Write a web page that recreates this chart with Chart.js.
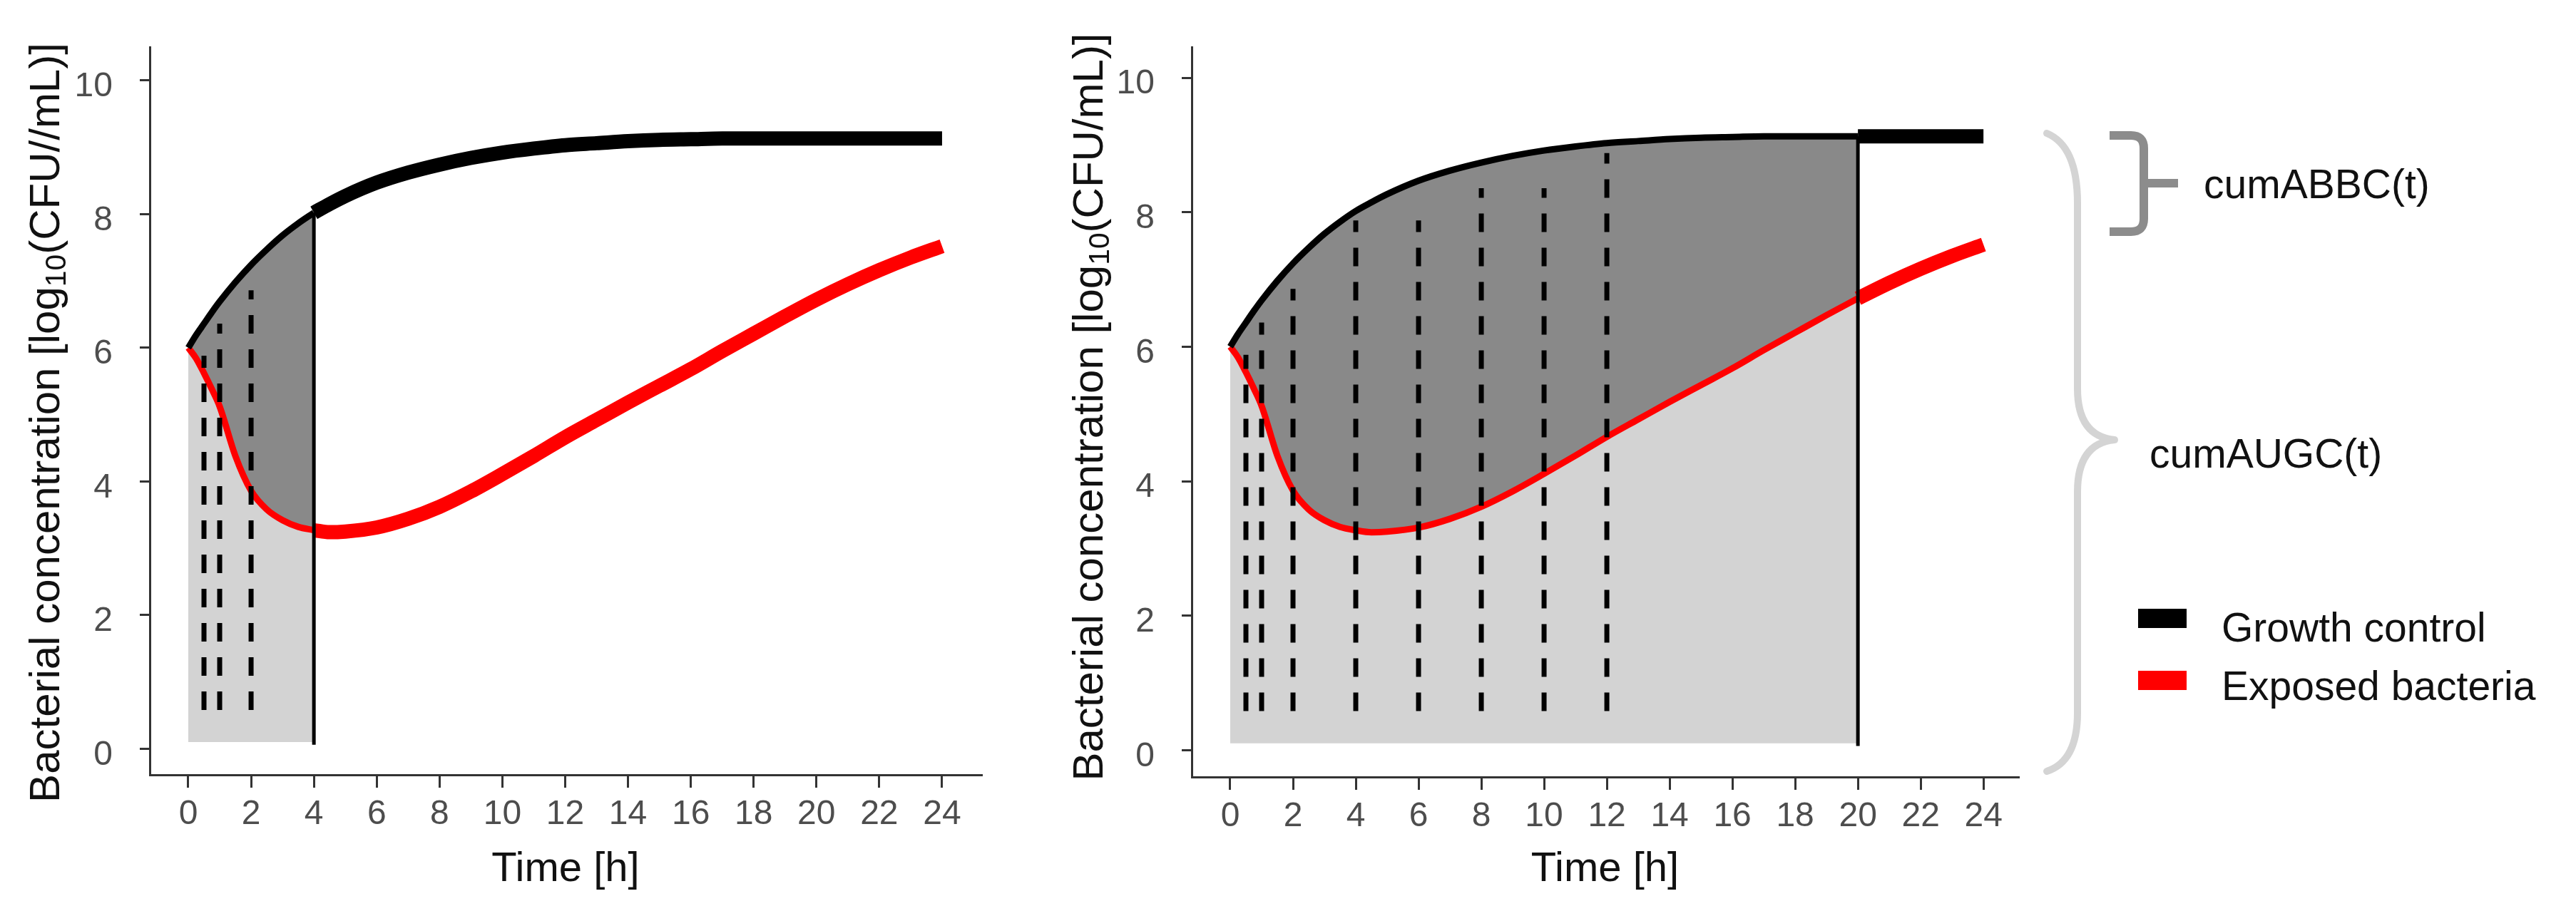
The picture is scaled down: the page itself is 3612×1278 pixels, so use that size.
<!DOCTYPE html>
<html>
<head>
<meta charset="utf-8">
<title>cumABBC / cumAUGC</title>
<script src="https://cdn.jsdelivr.net/npm/chart.js@4.4.1/dist/chart.umd.min.js"></script>
<style>
	html, body { margin: 0; padding: 0; background: #fff; }
	body { width: 3612px; height: 1278px; position: relative; overflow: hidden; font-family: "Liberation Sans", Arial, sans-serif; }
	.panel { position: absolute; top: 0; width: 1400px; height: 1278px; }
	.ytitle { position: absolute; width: 1200px; height: 60px; line-height: 60px; font-size: 60px; text-align: center; color: #111; transform: rotate(-90deg); white-space: nowrap; }
	.ytitle sub { font-size: 0.68em; line-height: 0; vertical-align: -0.22em; }
	.note { position: absolute; font-size: 57px; line-height: 57px; color: #111; white-space: nowrap; }
	.swatch { position: absolute; width: 68px; height: 27px; }
	#braces { position: absolute; left: 2850px; top: 0; }
</style>
</head>
<body>

<div class="panel" style="left:0"><canvas id="chartLeft"></canvas></div>
<div class="panel" style="left:1450px"><canvas id="chartRight"></canvas></div>

<div class="ytitle" style="left:-537px; top:563px">Bacterial concentration [log<sub>10</sub>(CFU//mL)]</div>
<div class="ytitle" style="left:926px; top:541px">Bacterial concentration [log<sub>10</sub>(CFU/mL)]</div>

<canvas id="braces" width="762" height="1278"></canvas>
<div class="note" style="left:3090px; top:230px">cumABBC(t)</div>
<div class="note" style="left:3014px; top:608px">cumAUGC(t)</div>

<div class="swatch" style="left:2998px; top:854px; background:#000"></div>
<div class="swatch" style="left:2998px; top:941px; background:#ff0000"></div>
<div class="note" style="left:3115px; top:852px">Growth control</div>
<div class="note" style="left:3115px; top:934px">Exposed bacteria</div>

<script>
// time grid [h] and the two curves, log10(CFU/mL)
const hours = [0, 0.25, 0.5, 0.75, 1, 1.5, 2, 2.5, 3, 3.5, 4, 4.5, 5, 6, 7, 8, 9, 10, 11, 12, 13, 14, 15, 16, 17, 18, 19, 20, 21, 22, 23, 24];
const growthControl = [6.0, 6.19, 6.36, 6.53, 6.69, 6.98, 7.24, 7.47, 7.68, 7.86, 8.02, 8.15, 8.27, 8.47, 8.62, 8.74, 8.84, 8.92, 8.98, 9.03, 9.06, 9.09, 9.11, 9.12, 9.13, 9.13, 9.13, 9.13, 9.13, 9.13, 9.13, 9.13];
const exposedBacteria = [6.0, 5.84, 5.62, 5.38, 5.12, 4.38, 3.86, 3.58, 3.42, 3.32, 3.27, 3.24, 3.25, 3.31, 3.44, 3.62, 3.85, 4.11, 4.38, 4.66, 4.92, 5.18, 5.43, 5.68, 5.95, 6.21, 6.47, 6.72, 6.95, 7.16, 7.35, 7.52];

// tick labels
const xTicks = [0, 2, 4, 6, 8, 10, 12, 14, 16, 18, 20, 22, 24];
const yTicks = [0, 2, 4, 6, 8, 10];

// cumulative windows and the sampling times (dashed lines)
const cutLeft = 4;
const cutRight = 20;
const dashTimesLeft = [0.5, 1, 2];
const dashTopsLeft = [5.88, 6.36, 6.86];
const dashTimesRight = [0.5, 1, 2, 4, 6, 8, 10, 12];
const dashTopsRight = [5.88, 6.36, 6.86, 7.88, 7.88, 8.36, 8.36, 8.88];
const dashBottom = 0.58;
const shadeBottom = 0.1;
const cutLineBottom = 0.06;

var FONT = '"Liberation Sans", Arial, sans-serif';

var auc = function(){

	var series = function(ys, from, to){
		return hours.map(function(h, i){ return {x: h, y: ys[i]}; })
			.filter(function(p){ return p.x >= from && p.x <= to; });
	};

	var curve = {
		pointRadius: 0,
		cubicInterpolationMode: 'monotone',
		fill: false
	};

	var panel = function(id, cut, dashTimes, dashTops, dims){
		var cutIdx = hours.indexOf(cut);

		var datasets = [
			// area under the exposed curve
			Object.assign({}, curve, {
				data: series(exposedBacteria, 0, cut),
				fill: {value: shadeBottom},
				backgroundColor: '#d3d3d3',
				borderWidth: 0,
				order: 20
			}),
			// area between growth control and exposed
			Object.assign({}, curve, {
				data: series(growthControl, 0, cut),
				fill: '-1',
				backgroundColor: '#898989',
				borderWidth: 0,
				order: 19
			}),
			Object.assign({}, curve, { data: series(exposedBacteria, 0, cut), borderColor: '#ff0000', borderWidth: 9, order: 6 }),
			Object.assign({}, curve, { data: series(growthControl, 0, cut), borderColor: '#000', borderWidth: 9, order: 5 }),
			Object.assign({}, curve, { data: series(exposedBacteria, cut, 24), borderColor: '#ff0000', borderWidth: 20, order: 6 }),
			Object.assign({}, curve, { data: series(growthControl, cut, 24), borderColor: '#000', borderWidth: 20, order: 5 }),
			{
				data: [{x: cut, y: cutLineBottom}, {x: cut, y: growthControl[cutIdx]}],
				borderColor: '#000', borderWidth: 5, pointRadius: 0, tension: 0, fill: false, order: 2
			}
		];

		dashTimes.forEach(function(t, i){
			datasets.push({
				data: [{x: t, y: dashBottom}, {x: t, y: dashTops[i]}],
				borderColor: '#000', borderWidth: 7, borderDash: [26, 22],
				pointRadius: 0, tension: 0, fill: false, order: 1
			});
		});

		var axisGrid = function(len){
			return { display: true, drawOnChartArea: false, drawTicks: true, tickLength: len, color: '#333', lineWidth: 3 };
		};

		new Chart(document.getElementById(id), {
			type: 'line',
			data: { datasets: datasets },
			options: {
				responsive: true,
				maintainAspectRatio: false,
				animation: false,
				devicePixelRatio: 1,
				events: [],
				layout: { padding: dims.padding },
				plugins: {
					legend: false,
					tooltip: { enabled: false }
				},
				scales: {
					x: {
						type: 'linear',
						min: dims.xMin,
						max: dims.xMax,
						border: { display: true, color: '#333', width: 3 },
						grid: axisGrid(18),
						ticks: { color: '#4d4d4d', font: { size: 48, family: FONT }, padding: 9, maxRotation: 0, autoSkip: false },
						title: { display: true, text: 'Time [h]', color: '#111', font: { size: 58, family: FONT }, padding: { top: 0, bottom: 23 } },
						afterBuildTicks: function(s){ s.ticks = xTicks.map(function(v){ return {value: v}; }); },
						afterFit: function(s){ s.height = dims.xHeight; }
					},
					y: {
						type: 'linear',
						min: dims.yMin,
						max: dims.yMax,
						border: { display: true, color: '#333', width: 3 },
						grid: axisGrid(14),
						ticks: { color: '#4d4d4d', font: { size: 48, family: FONT }, padding: 38, labelOffset: 9 },
						afterBuildTicks: function(s){ s.ticks = yTicks.map(function(v){ return {value: v}; }); },
						afterFit: function(s){ s.width = dims.yWidth; }
					}
				}
			}
		});
	};

	var braces = function(){
		var ctx = document.getElementById('braces').getContext('2d');
		ctx.translate(-2850, 0);

		// big light brace: whole area under the growth curve
		ctx.strokeStyle = '#d4d4d4';
		ctx.lineWidth = 10;
		ctx.lineCap = 'round';
		ctx.lineJoin = 'round';
		ctx.beginPath();
		ctx.moveTo(2870, 187);
		ctx.quadraticCurveTo(2913, 205, 2913, 285);
		ctx.lineTo(2913, 545);
		ctx.quadraticCurveTo(2913, 612, 2965, 617);
		ctx.quadraticCurveTo(2913, 622, 2913, 690);
		ctx.lineTo(2913, 1000);
		ctx.quadraticCurveTo(2913, 1068, 2870, 1082);
		ctx.stroke();

		// small dark brace: area between the curves
		ctx.strokeStyle = '#8c8c8c';
		ctx.lineWidth = 12;
		ctx.lineCap = 'butt';
		ctx.beginPath();
		ctx.moveTo(2958, 190);
		ctx.lineTo(2988, 190);
		ctx.quadraticCurveTo(3006, 190, 3006, 208);
		ctx.lineTo(3006, 307);
		ctx.quadraticCurveTo(3006, 325, 2988, 325);
		ctx.lineTo(2958, 325);
		ctx.stroke();
		ctx.beginPath();
		ctx.moveTo(3006, 257);
		ctx.lineTo(3054, 257);
		ctx.stroke();
	};

	return {
		init: function(){
			panel('chartLeft', cutLeft, dashTimesLeft, dashTopsLeft, {
				padding: { left: 0, top: 50, right: 24, bottom: 0 },
				xMin: -1.226, xMax: 25.25, yMin: -0.39, yMax: 10.49,
				xHeight: 191, yWidth: 210
			});
			panel('chartRight', cutRight, dashTimesRight, dashTopsRight, {
				padding: { left: 0, top: 57, right: 20, bottom: 0 },
				xMin: -1.227, xMax: 25.11, yMin: -0.40, yMax: 10.45,
				xHeight: 188, yWidth: 221
			});
			braces();
		}
	};
}();

auc.init();
</script>
</body>
</html>
